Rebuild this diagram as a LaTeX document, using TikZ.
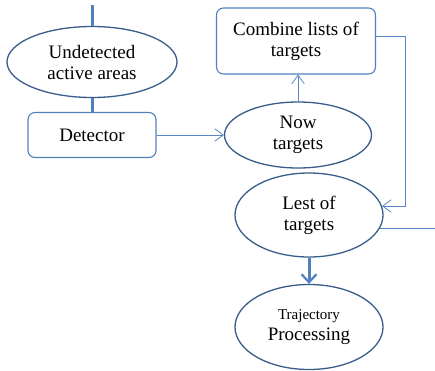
\documentclass[tikz,border=0pt]{standalone}
\usepackage{fontspec}
\setmainfont{Liberation Serif}
\usepackage{tikz}
\usetikzlibrary{arrows.meta,positioning,shapes.geometric}
\definecolor{ovalblue}{HTML}{385D8A}
\definecolor{boxblue}{HTML}{4F81BD}
\definecolor{linkblue}{HTML}{5B86C5}
\tikzset{
  box/.style={draw=boxblue, line width=1.1pt, rounded corners=7pt, align=center, inner sep=2pt, font=\fontsize{19}{21}\selectfont},
  oval/.style={draw=ovalblue, line width=1.3pt, ellipse, align=center, inner sep=0pt, font=\fontsize{19}{21}\selectfont},
  thinarrow/.style={-{Straight Barb[length=3mm,width=4.4mm]}, draw=linkblue, line width=0.8pt},
  thinline/.style={draw=linkblue, line width=0.8pt},
  thickline/.style={draw=boxblue, line width=3pt},
  thickarrow/.style={-{Straight Barb[length=2.8mm,width=5.2mm,line width=2.2pt]}, draw=boxblue, line width=3pt}
}
\begin{document}
\begin{tikzpicture}[x=1pt,y=-1pt]
\useasboundingbox (0,0) rectangle (435,370);
\node[oval, minimum width=170pt, minimum height=71pt] (areas) at (92,62) {Undetected\\active areas};
\node[box, minimum width=128pt, minimum height=45pt] (detector) at (92,135) {Detector};
\node[oval, minimum width=147pt, minimum height=66pt] (nowt) at (298,135) {Now\\targets};
\node[box, minimum width=159pt, minimum height=66pt] (combine) at (296,41) {Combine lists of\\targets};
\node[oval, minimum width=148pt, minimum height=84pt] (lest) at (309,215) {Lest of\\targets};
\node[oval, minimum width=148pt, minimum height=85pt] (traj) at (309,327) {{\fontsize{15}{18}\selectfont Trajectory}\\Processing};
\coordinate (feed) at (92,5);
\coordinate (bend) at (405,36);
\coordinate (exit) at (435,229);
% connectors
\draw[thickline] (feed) -- (areas.north);
\draw[thickline] (areas.south) -- (detector.north);
\draw[thinarrow] (detector.east) -- (nowt.west);
\draw[thinarrow] (nowt.north) -- (nowt.north |- combine.south);
\draw[thinarrow] (combine.east |- bend) -- (bend) |- (lest.7);
\draw[thinline] (lest.-11) -- (lest.-11 -| exit);
\draw[thickarrow] (lest.south) -- (traj.north);
\end{tikzpicture}
\end{document}
